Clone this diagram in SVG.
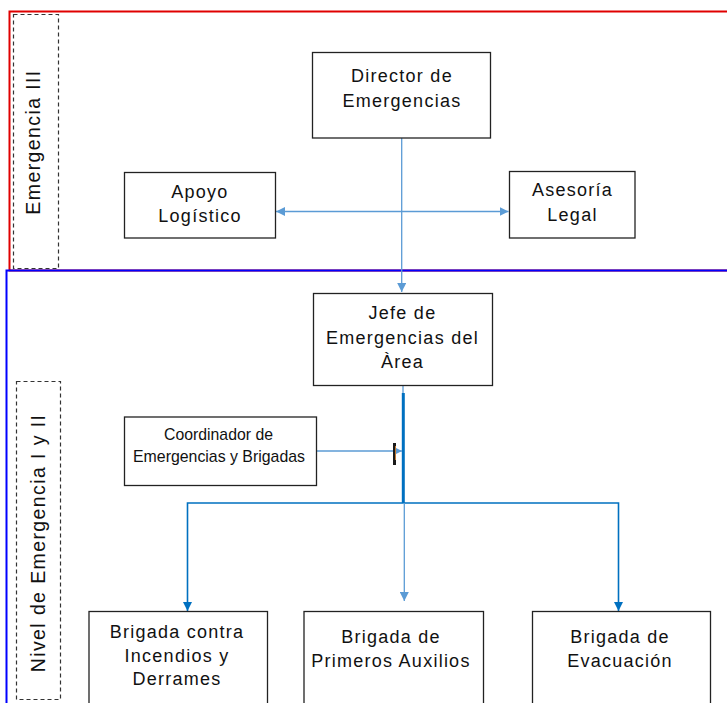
<svg xmlns="http://www.w3.org/2000/svg" width="727" height="703" viewBox="0 0 727 703">
<style>
.node rect{fill:#fff;stroke:#222;stroke-width:1.3}
.t{font-family:"Liberation Sans",Arial,sans-serif;font-size:18px;letter-spacing:1.25px;fill:#111;text-anchor:middle}
.rot{font-family:"Liberation Sans",Arial,sans-serif;font-size:19.5px;letter-spacing:1.4px;fill:#111;text-anchor:middle}
.small{font-family:"Liberation Sans",Arial,sans-serif;font-size:17px;fill:#111;text-anchor:start}
.dash{fill:none;stroke:#333;stroke-width:1.2;stroke-dasharray:4 3}
.lt{fill:none;stroke:#5B9BD5;stroke-width:1.3}
.dk{fill:none;stroke:#0070C0;stroke-width:1.6}
</style>
<defs>
<marker id="al" viewBox="0 0 10 10" refX="10" refY="5" markerWidth="9" markerHeight="9" markerUnits="userSpaceOnUse" orient="auto-start-reverse">
<path d="M0,0 L10,5 L0,10 z" fill="#5B9BD5"/>
</marker>
<marker id="ad" viewBox="0 0 10 10" refX="10" refY="5" markerWidth="9" markerHeight="9" markerUnits="userSpaceOnUse" orient="auto">
<path d="M0,0 L10,5 L0,10 z" fill="#0070C0"/>
</marker>
</defs>
<rect width="727" height="703" fill="#fff"/>
<g id="zone-emergencia-iii">
<rect x="9.5" y="11.5" width="730" height="259" fill="none" stroke="#E00000" stroke-width="2"/>
<rect class="dash" x="13.5" y="14.5" width="45" height="254"/>
<text class="rot" transform="translate(40,142) rotate(-90)">Emergencia III</text>
</g>
<g id="zone-nivel-i-ii">
<rect x="6.5" y="270.5" width="730" height="440" fill="none" stroke="#0000FF" stroke-width="2"/>
<rect class="dash" x="16.5" y="381.5" width="44" height="318"/>
<text class="rot" transform="translate(45,543) rotate(-90)">Nivel de Emergencia I y II</text>
</g>
<g id="connectors">
<line class="lt" x1="401.7" y1="138" x2="401.7" y2="292" marker-end="url(#al)"/>
<line class="lt" x1="276" y1="211.5" x2="508.5" y2="211.5" marker-start="url(#al)" marker-end="url(#al)"/>
<line class="lt" x1="403" y1="386" x2="403" y2="394"/>
<line x1="403.3" y1="393" x2="403.3" y2="503" stroke="#0070C0" stroke-width="3"/>
<line class="lt" x1="317" y1="451" x2="402" y2="451" marker-end="url(#al)"/>
<rect x="393" y="443" width="3" height="22" fill="#1a1a1a"/>
<line x1="395.5" y1="446" x2="395.5" y2="460" stroke="#C07830" stroke-width="1"/>
<polyline class="dk" points="403.3,503 187.5,503 187.5,611" marker-end="url(#ad)"/>
<polyline class="dk" points="403.3,503 618.5,503 618.5,611" marker-end="url(#ad)"/>
<line class="lt" x1="404.3" y1="503" x2="404.3" y2="601" marker-end="url(#al)"/>
</g>
<g id="director" class="node">
<rect x="312.5" y="52.5" width="178" height="85.5"/>
<text class="t" x="402" y="81.5">Director de</text>
<text class="t" x="402" y="106.5">Emergencias</text>
</g>
<g id="apoyo" class="node">
<rect x="124.5" y="172.5" width="151" height="65.5"/>
<text class="t" x="200" y="197.5">Apoyo</text>
<text class="t" x="200" y="222">Logístico</text>
</g>
<g id="asesoria" class="node">
<rect x="509.5" y="171.5" width="125.5" height="66.5"/>
<text class="t" x="572.5" y="196">Asesoría</text>
<text class="t" x="572.5" y="220.5">Legal</text>
</g>
<g id="jefe" class="node">
<rect x="313.5" y="293.5" width="179" height="92"/>
<text class="t" x="402.5" y="319">Jefe de</text>
<text class="t" x="402.5" y="344">Emergencias del</text>
<text class="t" x="402.5" y="367.5">Àrea</text>
</g>
<g id="coordinador" class="node">
<rect x="124.5" y="417" width="192" height="68.5"/>
<text class="small" x="164" y="440" textLength="109" lengthAdjust="spacingAndGlyphs">Coordinador de</text>
<text class="small" x="133" y="461.5" textLength="172" lengthAdjust="spacingAndGlyphs">Emergencias y Brigadas</text>
</g>
<g id="brigada-incendios" class="node">
<rect x="89" y="611.5" width="178.5" height="95"/>
<text class="t" x="177" y="637.5">Brigada contra</text>
<text class="t" x="177" y="661.5">Incendios y</text>
<text class="t" x="177" y="685">Derrames</text>
</g>
<g id="brigada-auxilios" class="node">
<rect x="304" y="611.5" width="179.5" height="95"/>
<text class="t" x="391" y="642.5">Brigada de</text>
<text class="t" x="391" y="667">Primeros Auxilios</text>
</g>
<g id="brigada-evacuacion" class="node">
<rect x="532.5" y="611.5" width="178" height="95"/>
<text class="t" x="620" y="642.5">Brigada de</text>
<text class="t" x="620" y="667">Evacuación</text>
</g>
</svg>
